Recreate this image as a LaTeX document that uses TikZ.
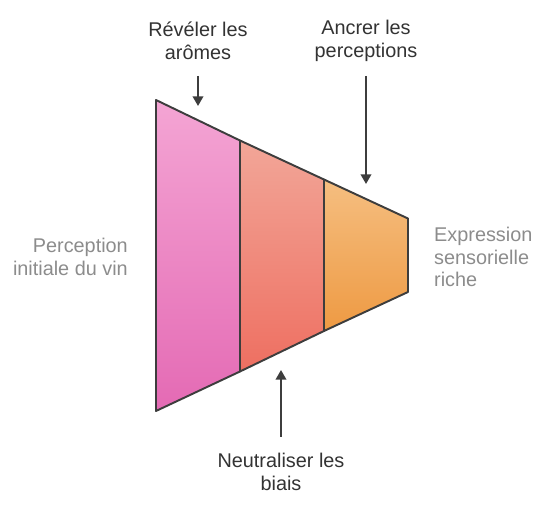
\documentclass[tikz,border=0pt]{standalone}
\usepackage{fontspec}
\setmainfont{Liberation Sans}
\usetikzlibrary{arrows.meta}
\definecolor{edgegray}{HTML}{3D3D3D}
\definecolor{labeldark}{HTML}{333333}
\definecolor{labellight}{HTML}{8C8C8C}
\begin{document}
\begin{tikzpicture}[
    x=0.02cm, y=-0.02cm,
    stage/.style={draw=edgegray, line width=1.1pt, line join=round},
    arr/.style={draw=edgegray, line width=1.1pt, -{Triangle[length=5.5pt, width=6pt]}},
    steplabel/.style={text=labeldark, align=center, font=\fontsize{11.3}{12.8}\selectfont},
    endlabel/.style={text=labellight, font=\fontsize{11.3}{12.8}\selectfont}
]
    % --- Funnel stages ---
    \shade[stage, top color={rgb,255:red,244;green,165;blue,212}, bottom color={rgb,255:red,228;green,106;blue,180}]
        (156,100) -- (240,140.5) -- (240,371.5) -- (156,411) -- cycle;
    \shade[stage, top color={rgb,255:red,242;green,166;blue,152}, bottom color={rgb,255:red,238;green,111;blue,97}]
        (240,140.5) -- (324,179.5) -- (324,331) -- (240,371.5) -- cycle;
    \shade[stage, top color={rgb,255:red,245;green,190;blue,128}, bottom color={rgb,255:red,238;green,154;blue,67}]
        (324,179.5) -- (408,218.5) -- (408,292) -- (324,331) -- cycle;

    % --- Labels ---
    \node[steplabel] (reveler) at (198,41) {Révéler les\\arômes};
    \node[steplabel] (ancrer) at (366,41) {Ancrer les\\perceptions};
    \node[steplabel] (neutral) at (281,472) {Neutraliser les\\biais};
    \node[endlabel, align=right, anchor=east] (start) at (134,257) {Perception\\initiale du vin};
    \node[endlabel, align=left, anchor=west] (finish) at (428,257) {Expression\\sensorielle\\riche};

    % --- Arrows ---
    \coordinate (revTop) at (198,76);
    \coordinate (revTip) at (198,106);
    \coordinate (ancTop) at (366,76);
    \coordinate (ancTip) at (366,184);
    \coordinate (neuBot) at (281,437);
    \coordinate (neuTip) at (281,370);

    \draw[arr] (revTop) -- (revTip);
    \draw[arr] (ancTop) -- (ancTip);
    \draw[arr] (neuBot) -- (neuTip);

    % Bounding box for padding
    \useasboundingbox (0,0) rectangle (552,527);
\end{tikzpicture}
\end{document}
